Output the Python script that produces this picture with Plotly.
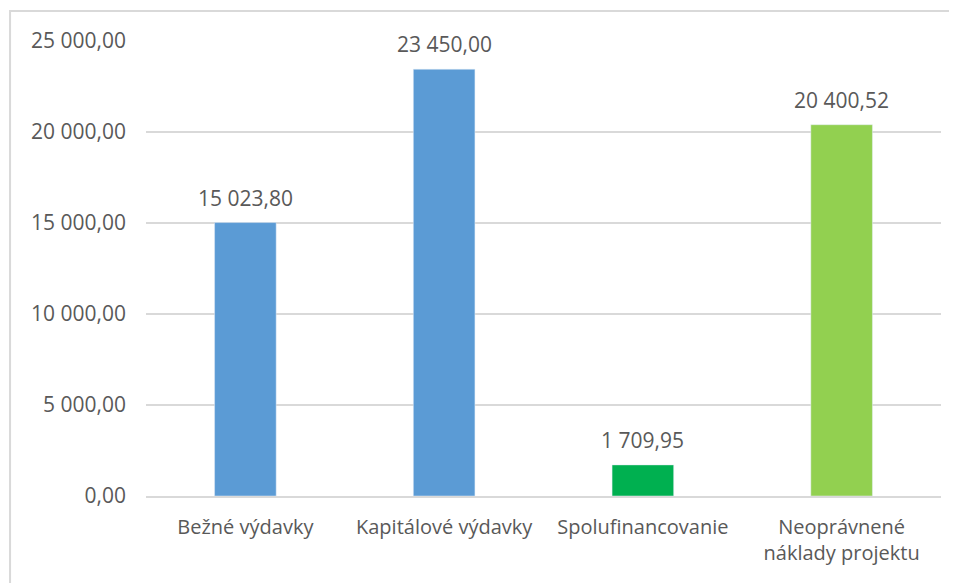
import plotly.graph_objects as go

categories = ["Bežné výdavky", "Kapitálové výdavky", "Spolufinancovanie", "Neoprávnené<br>náklady projektu"]
values = [15023.80, 23450.00, 1709.95, 20400.52]
colors = ["#5B9BD5", "#5B9BD5", "#00B050", "#92D050"]
tick_values = [0, 5000, 10000, 15000, 20000, 25000]


def fmt(v):
    s = f"{v:,.2f}"
    return s.replace(",", " ").replace(".", ",")


tick_text = [fmt(v) for v in tick_values]
labels = [fmt(v) for v in values]

FONT = "Open Sans"
TXT = "#595959"
fig = go.Figure(go.Bar(
    x=categories, y=values, marker_color=colors, width=0.31,
))

annotations = [
    dict(x=c, y=v, text=t, showarrow=False, xref="x", yref="y",
         yanchor="middle", yshift=25,
         font=dict(family=FONT, size=21, color=TXT))
    for c, v, t in zip(categories, values, labels)
]

fig.update_layout(
    width=949, height=575,
    margin=dict(l=138, r=16, t=33, b=87),
    paper_bgcolor="white", plot_bgcolor="white",
    showlegend=False,
    font=dict(family=FONT, size=21, color=TXT),
    annotations=annotations,
    shapes=[dict(type="rect", xref="paper", yref="paper",
                 x0=-0.171, x1=1.05, y0=-0.25, y1=1.066,
                 line=dict(color="#D9D9D9", width=2), layer="below")],
)
fig.update_xaxes(showgrid=False, showline=True, linecolor="#D9D9D9", linewidth=2,
                 ticks="", ticklabelstandoff=12,
                 tickfont=dict(family=FONT, size=20, color=TXT))
fig.update_yaxes(range=[0, 25000], tickvals=tick_values, ticktext=tick_text,
                 showgrid=True, gridcolor="#D9D9D9", gridwidth=2, zeroline=False,
                 ticks="", ticklabelstandoff=19,
                 tickfont=dict(family=FONT, size=21, color=TXT))

fig.write_html("out.html")
